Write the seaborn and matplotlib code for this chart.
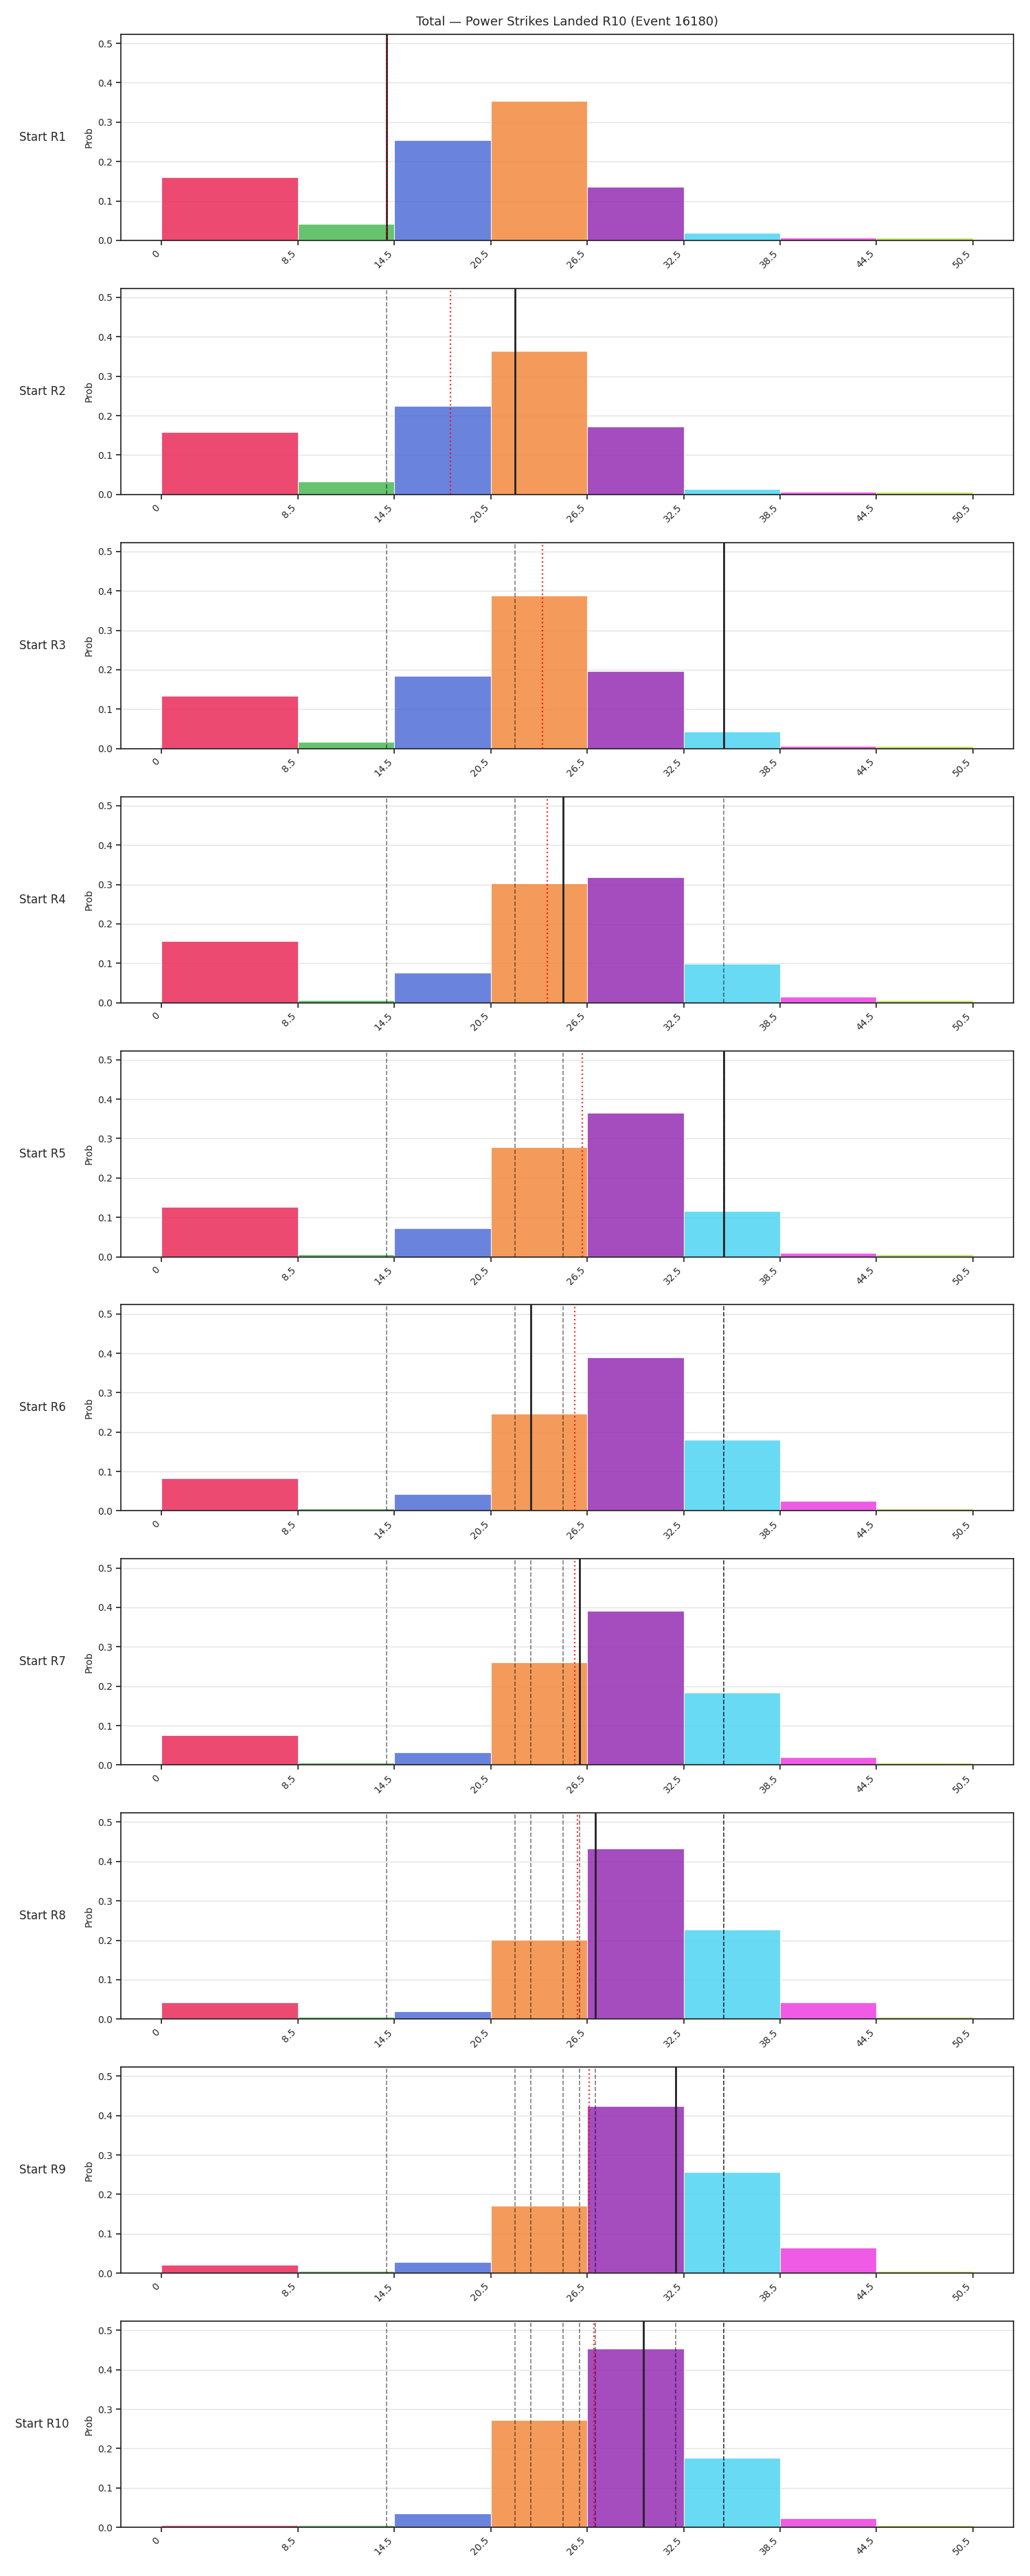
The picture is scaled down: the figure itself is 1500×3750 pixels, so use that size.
import numpy as np
import pandas as pd
import seaborn as sns
import matplotlib
matplotlib.use("Agg")
import matplotlib.pyplot as plt

# bins of the total (edges) and their labels
edges = [0, 8.5, 14.5, 20.5, 26.5, 32.5, 38.5, 44.5, 50.5]
tick_labels = ['0', '8.5', '14.5', '20.5', '26.5', '32.5', '38.5', '44.5', '50.5']
bin_colors = ['#E92A58', '#4BBA56', '#506DD8', '#F38A3E',
              '#952DB4', '#4ED4F3', '#EE3EE2', '#BAE244']

rounds = ['R1', 'R2', 'R3', 'R4', 'R5', 'R6', 'R7', 'R8', 'R9', 'R10']

# probabilidade por bin, uma lista por round
p_r1 = [0.161, 0.041, 0.255, 0.353, 0.136, 0.019, 0.006, 0.006]
p_r2 = [0.158, 0.033, 0.225, 0.364, 0.173, 0.014, 0.007, 0.007]
p_r3 = [0.134, 0.017, 0.185, 0.388, 0.197, 0.043, 0.006, 0.006]
p_r4 = [0.156, 0.006, 0.076, 0.302, 0.319, 0.099, 0.015, 0.006]
p_r5 = [0.126, 0.007, 0.072, 0.279, 0.366, 0.116, 0.009, 0.007]
p_r6 = [0.083, 0.006, 0.042, 0.246, 0.389, 0.180, 0.025, 0.006]
p_r7 = [0.075, 0.006, 0.032, 0.261, 0.392, 0.184, 0.020, 0.006]
p_r8 = [0.043, 0.006, 0.019, 0.201, 0.433, 0.228, 0.043, 0.006]
p_r9 = [0.022, 0.006, 0.028, 0.172, 0.424, 0.256, 0.065, 0.006]
p_r10 = [0.006, 0.006, 0.035, 0.273, 0.453, 0.176, 0.023, 0.006]

# linha atual de cada round e a media das linhas ate ali
line_vals = [14, 22, 35, 25, 35, 23, 26, 27, 32, 30]
avg_vals = [14.0, 18.0, 23.7, 24.0, 26.2, 25.7, 25.7, 25.9, 26.6, 26.9]

all_probs = [p_r1, p_r2, p_r3, p_r4, p_r5, p_r6, p_r7, p_r8, p_r9, p_r10]

sns.set_theme(style="ticks")
plt.rcParams['font.family'] = ['DejaVu Sans']

fig, axes = plt.subplots(10, 1, figsize=(15, 37.5), dpi=100)
fig.subplots_adjust(left=0.1173, right=0.984, top=0.9867, bottom=0.0189, hspace=0.233)

mids = [(edges[i] + edges[i + 1]) / 2 for i in range(len(bin_colors))]

for i, ax in enumerate(axes):
    df = pd.DataFrame({'mid': mids, 'prob': all_probs[i]})
    ax.set_axisbelow(True)
    ax.grid(axis='y', color='#e3e3e3', linewidth=1)
    sns.histplot(data=df, x='mid', weights='prob', bins=edges, alpha=0.85,
                 edgecolor='white', linewidth=0.8, ax=ax)
    # cada bin com sua cor
    for patch, c in zip(ax.patches, bin_colors):
        patch.set_facecolor(c)
        patch.set_alpha(0.85)
        patch.set_edgecolor('white')

    # linhas dos rounds anteriores
    for v in line_vals[:i]:
        ax.axvline(v, color='black', alpha=0.5, linestyle='--', linewidth=1.2)
    ax.axvline(line_vals[i], color='#222222', linewidth=2)
    ax.axvline(avg_vals[i], color='red', alpha=0.8, linestyle=':', linewidth=1.6)

    ax.set_xlim(-2.525, 53.025)
    ax.set_ylim(0, 0.523)
    ax.set_yticks([0, 0.1, 0.2, 0.3, 0.4, 0.5])
    ax.set_yticklabels(['0.0', '0.1', '0.2', '0.3', '0.4', '0.5'], fontsize=10)
    ax.set_xticks(edges)
    ax.set_xticklabels(tick_labels, rotation=45, ha='right', fontsize=10)
    ax.tick_params(length=5, width=1.25)
    for s in ax.spines.values():
        s.set_linewidth(1.25)
    ax.set_xlabel('')
    ax.set_ylabel('Prob', fontsize=10)
    ax.text(-0.088, 0.5, f'Start {rounds[i]}', transform=ax.transAxes,
            ha='center', va='center', fontsize=12)

axes[0].set_title('Total — Power Strikes Landed R10 (Event 16180)', fontsize=13, pad=9)

fig.savefig('out.png', dpi=100)
